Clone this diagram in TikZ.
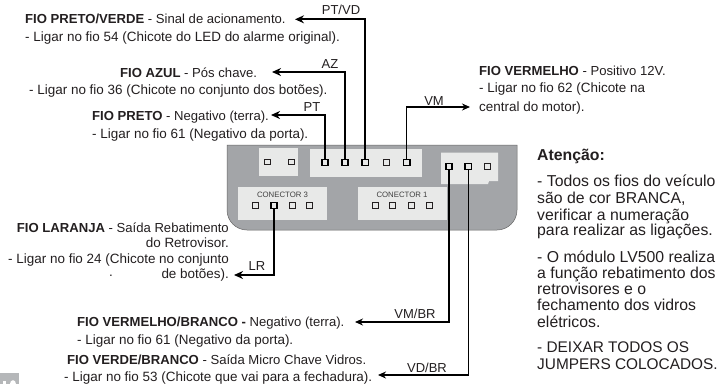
\documentclass[tikz,border=0pt]{standalone}
\usepackage{fontspec}
\setmainfont{Liberation Sans}
\usetikzlibrary{arrows.meta}
\definecolor{panelgray}{HTML}{A3A5A8}
\definecolor{boxgray}{HTML}{E8E9E8}
\definecolor{inkblack}{HTML}{231F20}
\tikzset{
  x=1pt,y=-1pt,
  panel/.style={fill=panelgray,draw=black!60,line width=0.5pt},
  cbox/.style={fill=boxgray,draw=none},
  pinfree/.style={draw=inkblack,fill=boxgray,line width=1pt,minimum width=6pt,minimum height=5.5pt,inner sep=0pt},
  pinwired/.style={draw=black,fill=boxgray,line width=1.7pt,minimum width=6.5pt,minimum height=6pt,inner sep=0pt},
  wire/.style={draw=black,line width=1.3pt,-{Stealth[length=8pt,width=7pt]}},
  wirethick/.style={draw=black,line width=1.8pt,-{Stealth[length=9pt,width=8pt]}},
  txt/.style={font=\fontsize{13.1}{14}\selectfont,text=inkblack,inner sep=0pt,anchor=base west},
  reg/.style={font=\fontsize{13.45}{14}\selectfont,text=inkblack,inner sep=0pt,anchor=base west},
  txtr/.style={txt,anchor=base east},
  regr/.style={reg,anchor=base east},
  lab/.style={font=\fontsize{13}{14}\selectfont,text=inkblack,inner sep=0pt,anchor=base},
  att/.style={font=\fontsize{15.8}{17}\selectfont,text=inkblack,inner sep=0pt,anchor=base west},
  attcaps/.style={font=\fontsize{15.4}{17}\selectfont,text=inkblack,inner sep=0pt,anchor=base west},
  conn/.style={font=\fontsize{7.8}{9}\selectfont,text=black!75,inner sep=0pt,anchor=base},
}
\begin{document}
\begin{tikzpicture}
\useasboundingbox (0,0) rectangle (722,384);
\fill[white] (0,0) rectangle (722,384);
% page number corner fragment
\fill[panelgray!80] (0,373) rectangle (19,384);
\fill[white] (3,384) rectangle (6,381);
\fill[white] (10,384) .. controls (10,379) and (16,379) .. (16,384) -- cycle;
% panel
\draw[panel] (227,145) -- (517,145) -- (517,210) .. controls (517,221) and (508,230) .. (497,230) -- (247,230) .. controls (236,230) and (227,221) .. (227,210) -- cycle;
\fill[cbox] (259,148) rectangle (298,176);
\fill[cbox] (310,148.5) rectangle (421.5,176.5);
\fill[cbox] (441,152.5) -- (498,152.5) -- (498,181) -- (489,181) -- (488,184) -- (441,184) -- cycle;
\fill[cbox] (238,187) rectangle (327,220);
\fill[cbox] (358,187) rectangle (447,220);
\node[conn] (c3) at (282.5,197) {CONECTOR 3};
\node[conn] (c1) at (402,197) {CONECTOR 1};
% pins
\node[pinfree] (a1) at (267,162) {};
\node[pinfree] (a2) at (291,162) {};
\node[pinwired] (b1) at (325,162.5) {};
\node[pinwired] (b2) at (345,162.5) {};
\node[pinwired] (b3) at (365.3,162.5) {};
\node[pinfree] (b4) at (386,162.5) {};
\node[pinwired] (b5) at (406.7,162.5) {};
\node[pinwired] (r1) at (449,166.5) {};
\node[pinwired] (r2) at (468.3,166.5) {};
\node[pinfree] (r3) at (487.3,166.5) {};
\node[pinfree] (d1) at (255.7,205.5) {};
\node[pinwired] (d2) at (274,205.5) {};
\node[pinfree] (d3) at (292,205.5) {};
\node[pinfree] (d4) at (309.7,205.5) {};
\node[pinfree] (e1) at (375,205.5) {};
\node[pinfree] (e2) at (392.7,205.5) {};
\node[pinfree] (e3) at (411,205.5) {};
\node[pinfree] (e4) at (429,205.5) {};
% arrow ends
\coordinate (tPT) at (271,115);
\coordinate (tAZ) at (272,72);
\coordinate (tPV) at (295,19.3);
\coordinate (tVM) at (470,107);
\coordinate (tLR) at (234,275);
\coordinate (tVB) at (355,322);
\coordinate (tVD) at (378,375);
% wires
\draw[wirethick] (b1.north) |- (tPT);
\draw[wirethick] (b2.north) |- (tAZ);
\draw[wirethick] (b3.north) |- (tPV);
\draw[wire] (b5.north) |- (tVM);
\draw[wirethick] (d2.south) |- (tLR);
\draw[wire] (r1.south) |- (tVB);
\draw[wire] (r2.south) |- (tVD);
% wire labels
\node[lab] (lPV) at (341,14.5) {PT/VD};
\node[lab] (lAZ) at (330,68) {AZ};
\node[lab] (lPT) at (312,111) {PT};
\node[lab] (lVM) at (434,105) {VM};
\node[lab] (lLR) at (257,270) {LR};
\node[lab] (lVB) at (415,318) {VM/BR};
\node[lab] (lVD) at (427,372) {VD/BR};
% left texts
\node[txt] (t1) at (25,23) {\textbf{FIO PRETO/VERDE} - Sinal de acionamento.};
\node[reg] (t2) at (25,41) {- Ligar no fio 54 (Chicote do LED do alarme original).};
\node[txt] (t3) at (120,77) {\textbf{FIO AZUL} - Pós chave.};
\node[reg] (t4) at (29,94) {- Ligar no fio 36 (Chicote no conjunto dos botões).};
\node[txt] (t5) at (92,120.5) {\textbf{FIO PRETO} - Negativo (terra).};
\node[reg] (t6) at (92,138) {- Ligar no fio 61 (Negativo da porta).};
\node[txtr] (t7) at (229,232.5) {\textbf{FIO LARANJA} - Saída Rebatimento};
\node[regr] (t8) at (229,247.5) {do Retrovisor.};
\node[regr] (t9) at (229,263) {- Ligar no fio 24 (Chicote no conjunto};
\node[regr] (t10) at (229,278) {de botões).};
\node[reg] (t10b) at (109,276) {.};
\node[txt] (t11) at (77,326) {\textbf{FIO VERMELHO/BRANCO -} Negativo (terra).};
\node[reg] (t12) at (77,344) {- Ligar no fio 61 (Negativo da porta).};
\node[txt] (t13) at (67,364.5) {\textbf{FIO VERDE/BRANCO} - Saída Micro Chave Vidros.};
\node[reg] (t14) at (64,381) {- Ligar no fio 53 (Chicote que vai para a fechadura).};
% right texts
\node[txt] (t15) at (479,75) {\textbf{FIO VERMELHO} - Positivo 12V.};
\node[reg] (t16) at (479,92.5) {- Ligar no fio 62 (Chicote na};
\node[reg] (t17) at (479,111) {central do motor).};
\node[att] (n1) at (537,160.7) {\textbf{Atenção:}};
\node[att] (n2) at (537,186) {- Todos os fios do veículo};
\node[att] (n3) at (537,203.7) {são de cor BRANCA,};
\node[att] (n4) at (537,220) {verificar a numeração};
\node[att] (n5) at (537,235.5) {para realizar as ligações.};
\node[att] (n6) at (537,262) {- O módulo LV500 realiza};
\node[att] (n7) at (537,278) {a função rebatimento dos};
\node[att] (n8) at (537,294.5) {retrovisores e o};
\node[att] (n9) at (537,310) {fechamento dos vidros};
\node[att] (n10) at (537,327) {elétricos.};
\node[attcaps] (n11) at (537,352.5) {- DEIXAR TODOS OS};
\node[attcaps] (n12) at (537,369.5) {JUMPERS COLOCADOS.};
\end{tikzpicture}
\end{document}
